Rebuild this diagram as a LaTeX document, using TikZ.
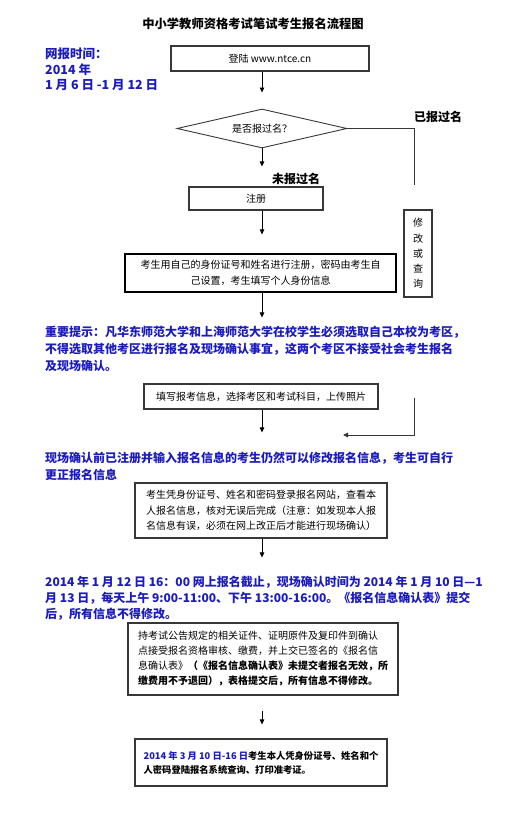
\documentclass[tikz,border=0pt]{standalone}
\usepackage{fontspec}
\newfontfamily\cjk{Noto Sans CJK SC}
\usetikzlibrary{arrows.meta,positioning,shapes.geometric}
\definecolor{noteblue}{RGB}{28,28,190}
\definecolor{boxline}{RGB}{55,55,55}
\tikzset{
  fc/box/.style={draw=boxline, line width=1.1pt, inner sep=0pt, align=center, font=\cjk\fontsize{10}{15.5}\selectfont},
  fc/textbox/.style={fc/box, align=left},
  fc/decision/.style={draw=boxline, diamond, line width=0.9pt, inner sep=0pt, aspect=4.4, minimum width=170pt, minimum height=39pt, font=\cjk\fontsize{10}{12}\selectfont},
  fc/note/.style={anchor=north west, inner sep=0pt, align=left, text=noteblue, font=\cjk\bfseries\fontsize{12}{17}\selectfont},
  fc/label/.style={inner sep=0pt, font=\cjk\bfseries\fontsize{12}{14}\selectfont},
  fc/title/.style={inner sep=0pt, font=\cjk\bfseries\fontsize{12.3}{14}\selectfont},
  fc/arrow/.style={-{Triangle[length=5pt,width=4.5pt]}, line width=0.9pt},
  fc/line/.style={line width=0.9pt, draw=boxline}
}

\begin{document}
\begin{tikzpicture}[x=1pt, y=-1pt]
  \useasboundingbox (0,0) rectangle (523,826);

  \node[fc/title] (title) at (253,24) {中小学教师资格考试笔试考生报名流程图};
  \node[fc/note, font=\cjk\bfseries\fontsize{12.5}{15.5}\selectfont] (time) at (45,48)
    {网报时间：\\2014 年\\1 月 6 日 -1 月 12 日};

  % main column
  \node[fc/box, minimum width=198pt, minimum height=25pt] (login) at (270,58.5) {登陆 www.ntce.cn};
  \node[fc/decision] (decide) at (262,128.5) {是否报过名？};
  \node[fc/box, minimum width=134pt, minimum height=23pt] (reg) at (256,198.5) {注册};
  \node[fc/box, minimum width=271pt, minimum height=38pt, line width=1.2pt, draw=black] (info) at (260.5,273)
    {考生用自己的身份证号和姓名进行注册，密码由考生自\\己设置，考生填写个人身份信息};
  \node[fc/box, minimum width=234pt, minimum height=25pt] (fill) at (261,396.5) {填写报考信息，选择考区和考试科目，上传照片};
  \node[fc/textbox, minimum width=252pt, minimum height=55pt] (check) at (261,510.5)
    {考生凭身份证号、姓名和密码登录报名网站，查看本\\人报名信息，核对无误后完成（注意：如发现本人报\\名信息有误，必须在网上改正后才能进行现场确认）};
  \node[fc/textbox, minimum width=270pt, minimum height=72pt, font=\cjk\fontsize{10}{15}\selectfont] (confirm) at (263,659)
    {持考试公告规定的相关证件、证明原件及复印件到确认\\点接受报名资格审核、缴费，并上交已签名的《报名信\\息确认表》{\bfseries（《报名信息确认表》未提交者报名无效，所}\\{\bfseries 缴费用不予退回），表格提交后，所有信息不得修改。}};
  \node[fc/textbox, minimum width=252pt, minimum height=47pt, font=\cjk\bfseries\fontsize{9.3}{14}\selectfont] (admit) at (261,762.5)
    {\textcolor{noteblue}{2014 年 3 月 10 日-16 日}考生本人凭身份证号、姓名和个\\人密码登陆报名系统查询、打印准考证。};

  % side branch
  \node[fc/box, minimum width=28pt, minimum height=87pt, font=\cjk\fontsize{10}{15.3}\selectfont] (modify) at (418,253.5)
    {修\\改\\或\\查\\询};
  \node[fc/label] (done) at (438,117) {已报过名};
  \node[fc/label] (notyet) at (296,179) {未报过名};
  \coordinate (mtop) at (414,185);
  \coordinate (mbot) at (414,398);
  \coordinate (mturn) at (414,435);
  \coordinate (mend) at (343,435);

  % notes
  \node[fc/note] (tip) at (45,326)
    {重要提示：凡华东师范大学和上海师范大学在校学生必须选取自己本校为考区，\\不得选取其他考区进行报名及现场确认事宜，这两个考区不接受社会考生报名\\及现场确认。};
  \node[fc/note] (change) at (45,452)
    {现场确认前已注册并输入报名信息的考生仍然可以修改报名信息，考生可自行\\更正报名信息};
  \node[fc/note, font=\cjk\bfseries\fontsize{12}{16}\selectfont] (deadline) at (45,576)
    {2014 年 1 月 12 日 16：00 网上报名截止，现场确认时间为 2014 年 1 月 10 日—1\\月 13 日，每天上午 9:00-11:00、下午 13:00-16:00。《报名信息确认表》提交\\后，所有信息不得修改。};

  % connectors
  \draw[fc/arrow, shorten >=16pt] (login.south -| decide) -- (decide.north);
  \draw[fc/arrow, shorten >=20pt] (decide.south) -- (reg.north -| decide);
  \draw[fc/arrow, shorten >=19pt] (reg.south -| decide) -- (info.north -| decide);
  \draw[fc/arrow, shorten >=66pt] (info.south -| decide) -- (fill.north -| decide);
  \draw[fc/arrow, shorten >=50pt] (fill.south -| decide) -- (check.north -| decide);
  \draw[fc/arrow, shorten >=65pt] (check.south -| decide) -- (confirm.north -| decide);
  \draw[fc/arrow, shorten <=15pt, shorten >=14pt] (confirm.south -| decide) -- (admit.north -| decide);
  \draw[fc/line] (decide.east) -| (mtop);
  \draw[fc/line, fc/arrow] (mbot) -- (mturn) -- (mend);
\end{tikzpicture}
\end{document}
